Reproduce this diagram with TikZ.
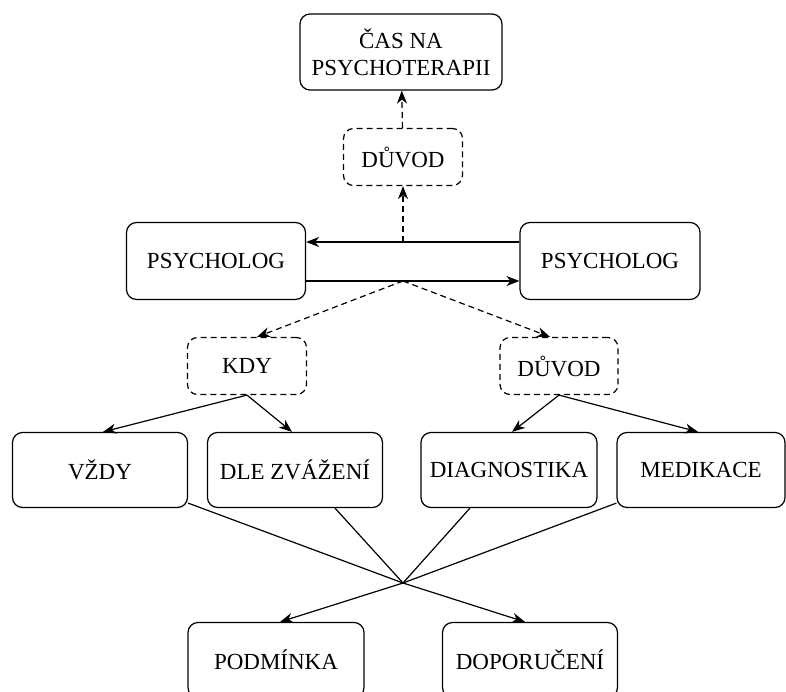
\documentclass[tikz,border=0pt]{standalone}
\usepackage{fontspec}
\setmainfont{Liberation Serif}
\usetikzlibrary{arrows.meta,calc}

\begin{document}
\begin{tikzpicture}[
  x=1pt, y=-1pt,
  font=\fontsize{23}{27}\selectfont,
  box/.style={draw, rounded corners=10pt, align=center, inner sep=2pt,
              line width=1.2pt, minimum height=75pt, minimum width=176pt},
  dbox/.style={box, dash pattern=on 6pt off 4pt, minimum height=57pt,
               minimum width=119pt},
  arrow/.style={-{Stealth[length=13pt,width=10pt,inset=4pt]}, line width=1.2pt},
  darrow/.style={arrow, dash pattern=on 6pt off 4pt}
]
\clip (0,0) rectangle (786,692);

% top
\node[box, minimum width=202pt, minimum height=76pt] (time) at (401,52) {ČAS NA\\PSYCHOTERAPII};
\node[dbox] (reasonT) at (403,157) {DŮVOD};

% the two psychologists
\node[box, minimum width=179pt, minimum height=77pt] (psyL) at (216,261) {PSYCHOLOG};
\node[box, minimum width=180pt, minimum height=77pt] (psyR) at (610,261) {PSYCHOLOG};
\coordinate (jU) at (403,242);
\coordinate (jL) at (403,281);

% middle row
\node[dbox] (when) at (247,366) {KDY};
\node[dbox, minimum width=118pt] (reasonB) at (559,366) {DŮVOD};

% answers
\node[box, minimum width=175pt] (always) at (100,470) {VŽDY};
\node[box, minimum width=175pt] (consider) at (295,470) {DLE ZVÁŽENÍ};
\node[box] (diag) at (509,470) {DIAGNOSTIKA};
\node[box, minimum width=168pt] (medic) at (701,470) {MEDIKACE};

% bottom
\coordinate (cross) at (403,583);
\node[box] (cond) at (276,660) {PODMÍNKA};
\node[box, minimum width=175pt] (recom) at (530,660) {DOPORUČENÍ};

\draw[arrow] ([yshift=19pt]psyR.west) -- ([yshift=19pt]psyL.east);
\draw[arrow] ([yshift=-20pt]psyL.east) -- ([yshift=-20pt]psyR.west);
\draw[darrow] (jU) -- (reasonT);
\draw[darrow] (reasonT) -- (time);
\draw[darrow] (jL) -- ([xshift=10pt]when.north);
\draw[darrow] (jL) -- ([xshift=-9pt]reasonB.north);

\draw[arrow] (when.south) -- ([xshift=3pt]always.north);
\draw[arrow] (when.south) -- ([xshift=-3pt]consider.north);
\draw[arrow] (reasonB.south) -- ([xshift=3pt]diag.north);
\draw[arrow] (reasonB.south) -- ([xshift=-3pt]medic.north);

\draw[line width=1.2pt] ([yshift=5pt]always.south east) -- (cross);
\draw[line width=1.2pt] ([xshift=40pt]consider.south) -- (cross);
\draw[line width=1.2pt] ([xshift=-39pt]diag.south) -- (cross);
\draw[line width=1.2pt] ([yshift=5pt]medic.south west) -- (cross);
\draw[arrow] (cross) -- ([xshift=4pt]cond.north);
\draw[arrow] (cross) -- ([xshift=-5pt]recom.north);
\end{tikzpicture}
\end{document}
